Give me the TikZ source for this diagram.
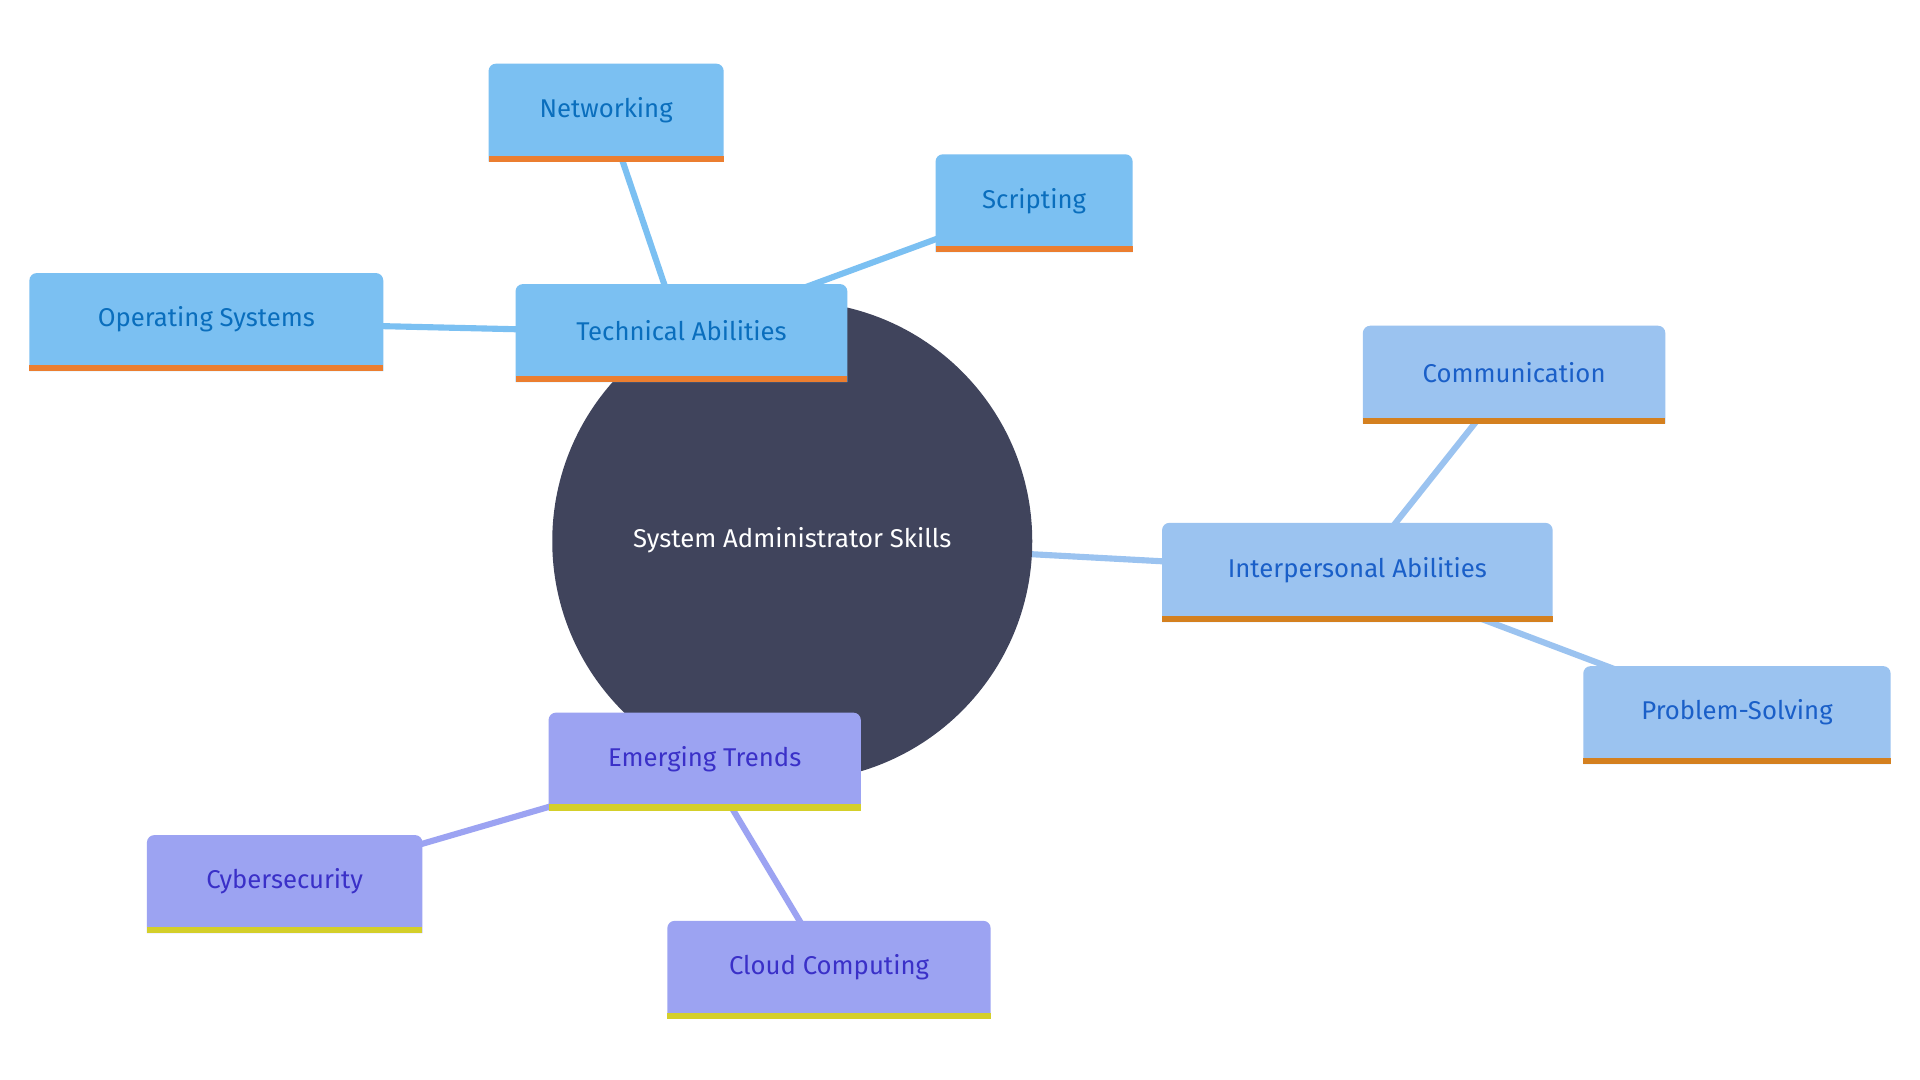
\documentclass[tikz,border=0pt]{standalone}
\usepackage{fontspec}
\setmainfont{Fira Sans}
\definecolor{tf}{HTML}{7BC0F2}\definecolor{tt}{HTML}{0A6EBD}\definecolor{tb}{HTML}{EB7E30}
\definecolor{pf}{HTML}{9BC3F0}\definecolor{pt}{HTML}{1A5FC8}\definecolor{pb}{HTML}{D4801F}
\definecolor{ef}{HTML}{9CA3F2}\definecolor{et}{HTML}{3A30C8}\definecolor{eb}{HTML}{D4CF2A}
\definecolor{cen}{HTML}{40445C}
\newcommand{\skbox}[9]{% name x1 y1 x2 y2 fill bottom textcolor text
  \fill[#6,rounded corners=6] (#2,#5-10) -- (#2,#3) -- (#4,#3) -- (#4,#5-10) [sharp corners]-- (#4,#5) -- (#2,#5) -- cycle;
  \fill[#7] (#2,#5-5) rectangle (#4,#5);
  \node[lbl,text=#8] (#1) at ({(#2+#4)/2},{(#3+#5)/2-2}) {#9};}
\begin{document}
\begin{tikzpicture}[x=1pt,y=-1pt,lbl/.style={font=\fontsize{21}{24}\selectfont,inner sep=0pt},
 edge/.style={line width=5pt}]
\useasboundingbox (0,0) rectangle (1568,882);
\fill[white] (0,0) rectangle (1568,882);
\coordinate (c) at (647,442);
\coordinate (tech) at (556,272);
\coordinate (inter) at (1108,467);
\coordinate (emer) at (575,622);
\draw[edge,tf] (c)--(tech);
\draw[edge,pf] (c)--(inter);
\draw[edge,ef] (c)--(emer);
\draw[edge,tf] (tech)--(495,92) (tech)--(844,166) (tech)--(168,263);
\draw[edge,pf] (inter)--(1236,306) (inter)--(1418,584);
\draw[edge,ef] (emer)--(232,722) (emer)--(677,792);
\fill[cen] (c) circle (196);
\node[lbl,text=white] (center) at (647,441) {System Administrator Skills};
\skbox{technical}{421}{232}{692}{312}{tf}{tb}{tt}{Technical Abilities}
\skbox{networking}{399}{52}{591}{132}{tf}{tb}{tt}{Networking}
\skbox{scripting}{764}{126}{925}{206}{tf}{tb}{tt}{Scripting}
\skbox{os}{24}{223}{313}{303}{tf}{tb}{tt}{Operating Systems}
\skbox{interpersonal}{949}{427}{1268}{508}{pf}{pb}{pt}{Interpersonal Abilities}
\skbox{communication}{1113}{266}{1360}{346}{pf}{pb}{pt}{Communication}
\skbox{problem}{1293}{544}{1544}{624}{pf}{pb}{pt}{Problem-Solving}
\skbox{emerging}{448}{582}{703}{662}{ef}{eb}{et}{Emerging Trends}
\skbox{cyber}{120}{682}{345}{762}{ef}{eb}{et}{Cybersecurity}
\skbox{cloud}{545}{752}{809}{832}{ef}{eb}{et}{Cloud Computing}
\end{tikzpicture}
\end{document}
